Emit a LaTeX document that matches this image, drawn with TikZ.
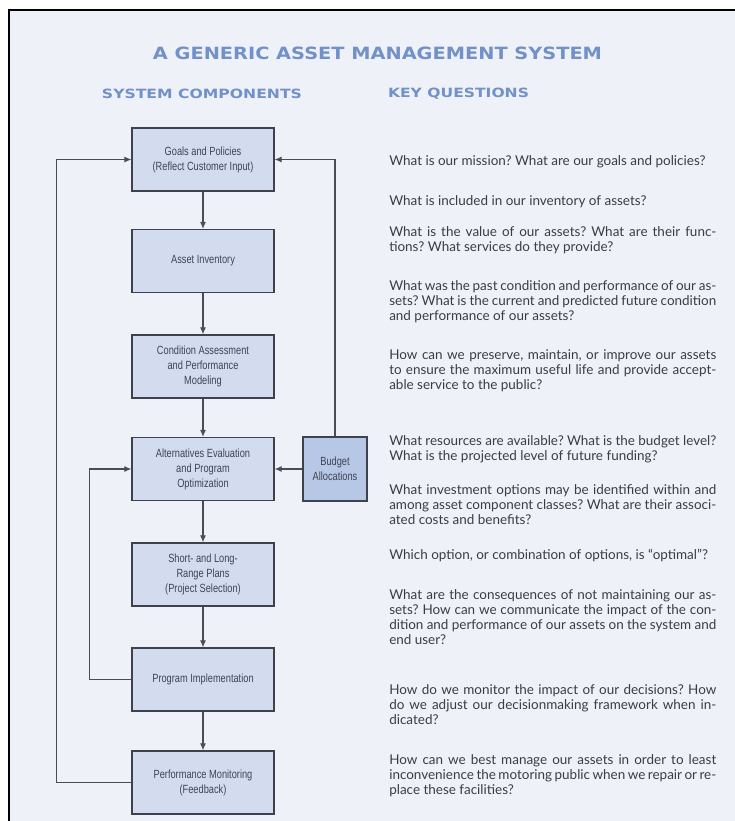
\documentclass[tikz,border=0pt]{standalone}
\usepackage{fontspec}
\usepackage{graphicx}
\usetikzlibrary{arrows.meta}
\setmainfont{Lato}
\newfontfamily\condfont[FakeStretch=0.78]{Liberation Sans}
\newfontfamily\headfont{DejaVu Sans}
\definecolor{bgc}{HTML}{EEF2F8}
\definecolor{boxfill}{HTML}{D3DCEF}
\definecolor{budfill}{HTML}{B7C7E6}
\definecolor{boxline}{HTML}{3F424C}
\definecolor{connc}{HTML}{4A4D56}
\definecolor{boxtext}{HTML}{3E4352}
\definecolor{headc}{HTML}{7191C8}
\definecolor{qtext}{HTML}{3C3C42}
\frenchspacing
\newcommand{\jl}[1]{\makebox[\linewidth][s]{#1}\\}
\tikzset{
  compbox/.style={draw=boxline, line width=0.9pt, fill=boxfill,
    minimum width=106.5pt, minimum height=47.25pt, inner sep=0pt, align=center,
    font=\condfont\fontsize{8.9}{11.25}\selectfont, text=boxtext},
  budbox/.style={compbox, fill=budfill, minimum width=48pt, minimum height=48pt},
  conn/.style={draw=connc, line width=0.8pt, -{Latex[length=5.25pt,width=4.5pt]}},
  heading/.style={inner sep=0pt, text=headc, anchor=center},
  qpara/.style={inner sep=0pt, anchor=base west, text=qtext},
}
\newcommand{\qbox}[1]{\parbox[t]{245.25pt}{\fontsize{10.1}{11.25}\selectfont\frenchspacing #1}}
\begin{document}
\begin{tikzpicture}[x=0.75pt,y=-0.75pt]
\useasboundingbox (0,0) rectangle (735,821);
\fill[white] (0,0) rectangle (735,821);
\fill[bgc] (9,10) rectangle (735,821);
\draw[black, line width=1.5pt] (9,821) -- (9,10) -- (735,10);

% headings
\node[heading] (title) at (377.5,53) {\resizebox{336.75pt}{9.4pt}{\headfont\bfseries A GENERIC ASSET MANAGEMENT SYSTEM}};
\node[heading] (hsys) at (202,94) {\resizebox{150pt}{7.1pt}{\headfont\bfseries SYSTEM COMPONENTS}};
\node[heading] (hkey) at (458.5,94) {\resizebox{105.75pt}{7.1pt}{\headfont\bfseries KEY QUESTIONS}};

% components
\node[compbox] (b1) at (203,159.5) {Goals and Policies\\(Reflect Customer Input)};
\node[compbox] (b2) at (203,261) {Asset Inventory};
\node[compbox] (b3) at (203,366.5) {Condition Assessment\\and Performance\\Modeling};
\node[compbox] (b4) at (203,469) {Alternatives Evaluation\\and Program\\Optimization};
\node[compbox] (b5) at (203,574.5) {Short- and Long-\\Range Plans\\(Project Selection)};
\node[compbox] (b6) at (203,679.5) {Program Implementation};
\node[compbox] (b7) at (203,782.5) {Performance Monitoring\\(Feedback)};
\node[budbox] (bud) at (335,469) {Budget\\Allocations};

\draw[conn] (b1) -- (b2);
\draw[conn] (b2) -- (b3);
\draw[conn] (b3) -- (b4);
\draw[conn] (b4) -- (b5);
\draw[conn] (b5) -- (b6);
\draw[conn] (b6) -- (b7);
\draw[conn] (bud) -- (b4);
\draw[conn] (bud.north) |- (b1.east);
\draw[conn] (b6.west) -- ++(-42,0) |- (b4.west);
\draw[conn] (b7.west) -- ++(-75,0) |- (b1.west);

% key questions
\node[qpara] (q1) at (389,165) {\qbox{What is our mission? What are our goals and policies?}};
\node[qpara] (q2) at (389,205) {\qbox{What is included in our inventory of assets?}};
\node[qpara] (q3) at (389,236) {\qbox{\jl{What is the value of our assets? What are their func-}tions? What services do they provide?}};
\node[qpara] (q4) at (389,290) {\qbox{\jl{What was the past condition and performance of our as-}\jl{sets? What is the current and predicted future condition}and performance of our assets?}};
\node[qpara] (q5) at (389,359) {\qbox{\jl{How can we preserve, maintain, or improve our assets}\jl{to ensure the maximum useful life and provide accept-}able service to the public?}};
\node[qpara] (q6) at (389,445) {\qbox{\jl{What resources are available? What is the budget level?}What is the projected level of future funding?}};
\node[qpara] (q7) at (389,494) {\qbox{\jl{What investment options may be identified within and}\jl{among asset component classes? What are their associ-}ated costs and benefits?}};
\node[qpara] (q8) at (389,559) {\qbox{Which option, or combination of options, is “optimal”?}};
\node[qpara] (q9) at (389,599) {\qbox{\jl{What are the consequences of not maintaining our as-}\jl{sets? How can we communicate the impact of the con-}\jl{dition and performance of our assets on the system and}end user?}};
\node[qpara] (q10) at (389,694) {\qbox{\jl{How do we monitor the impact of our decisions? How}\jl{do we adjust our decisionmaking framework when in-}dicated?}};
\node[qpara] (q11) at (389,764) {\qbox{\jl{How can we best manage our assets in order to least}\jl{inconvenience the motoring public when we repair or re-}place these facilities?}};
\end{tikzpicture}
\end{document}
